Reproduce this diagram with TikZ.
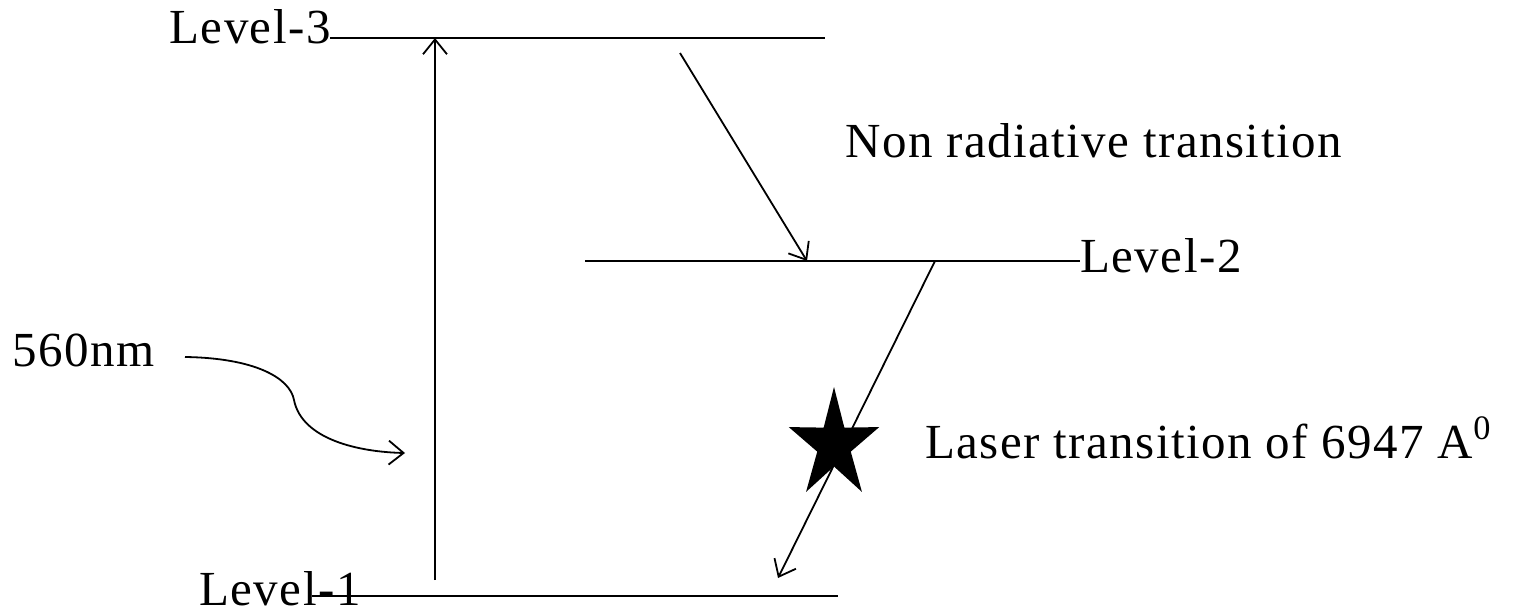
\documentclass[tikz,border=0pt]{standalone}
\usepackage{fontspec}
\setmainfont[LetterSpace=3]{Liberation Serif}
\usetikzlibrary{shapes.geometric,arrows.meta}

\begin{document}
\begin{tikzpicture}[
  x=0.5pt, y=-0.5pt,
  level/.style={line width=1.4pt},
  arrow/.style={-{Straight Barb[length=2.6mm,width=4.2mm]}, line width=0.9pt},
  lbl/.style={font=\fontsize{24.5}{28}\selectfont, inner sep=0pt},
  burst/.style={star, star points=5, star point ratio=2.7, fill=black, minimum size=58pt, inner sep=0pt}
]
  \useasboundingbox (0,0) rectangle (1527,615);

  % energy levels
  \coordinate (l3w) at (330,38);
  \coordinate (l3e) at (825,38);
  \coordinate (l2w) at (585,261);
  \coordinate (l2e) at (1080,261);
  \coordinate (l1w) at (312,596);
  \coordinate (l1e) at (838,596);
  \draw [level] (l3w) -- (l3e);
  \draw [level] (l2w) -- (l2e);
  \draw [level] (l1w) -- (l1e);

  \node (lvlthree) [lbl, anchor=base east] at (331,44) {Level-3};
  \node (lvltwo) [lbl, anchor=base west] at (1080,272) {Level-2};
  \node (lvlone) [lbl, anchor=base west] at (199,605) {Level-1};

  % pumping
  \coordinate (pumpfoot) at (435,580);
  \coordinate (pumptop) at (435,38);
  \draw [arrow] (pumpfoot) -- (pumptop);
  \node (pump) [lbl, anchor=base west] at (12,366) {560nm};
  \coordinate (wavestart) at (185,357);
  \coordinate (waveend) at (405,453);
  \draw [arrow] (wavestart) .. controls (255,358) and (290,378) .. (294,400)
    .. controls (302,440) and (360,452) .. (waveend);

  % non radiative decay
  \coordinate (nrstart) at (680,53);
  \coordinate (nrend) at (807,261);
  \draw [arrow] (nrstart) -- (nrend);
  \node (nonrad) [lbl, anchor=base west] at (845,157) {Non radiative transition};

  % laser transition
  \coordinate (lzstart) at (935,261);
  \coordinate (lzend) at (778,578);
  \draw [arrow] (lzstart) -- (lzend);
  \begin{scope}[shift={(834,445)}, xscale=0.82]
    \node (flash) [burst, transform shape] at (0,0) {};
  \end{scope}
  \node (laser) [lbl, anchor=base west] at (925,458) {Laser transition of 6947 A\textsuperscript{0}};
\end{tikzpicture}
\end{document}
